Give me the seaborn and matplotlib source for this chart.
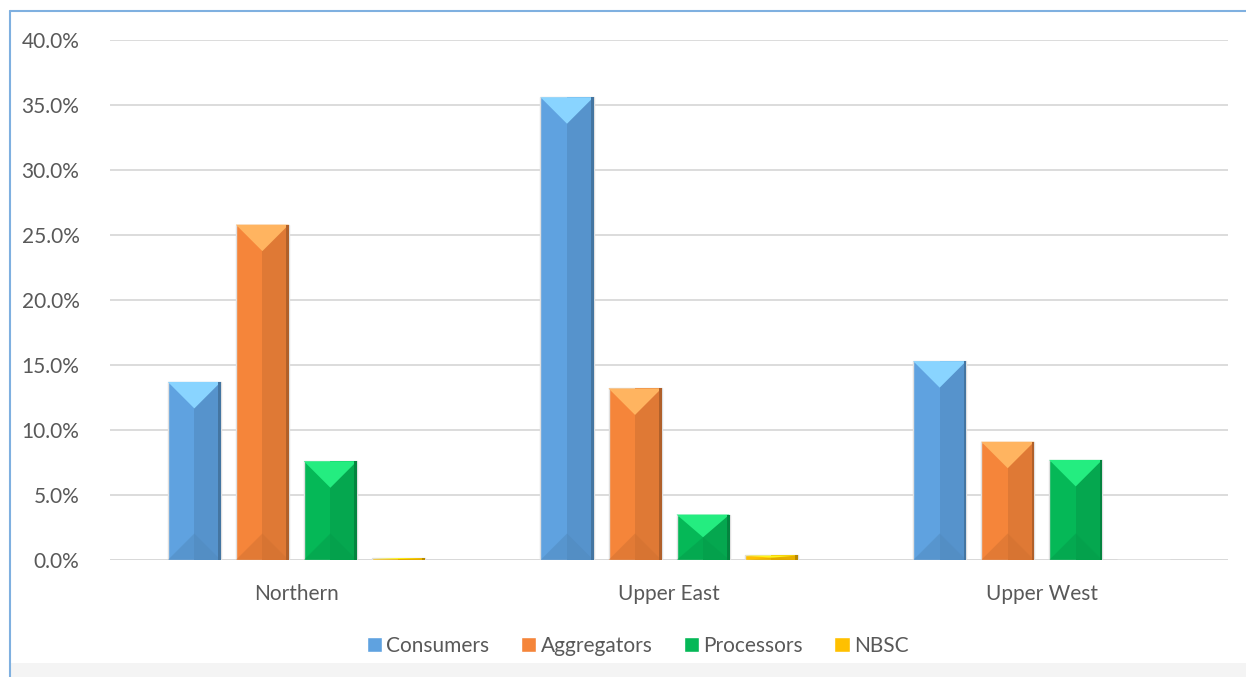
"""
Regional share of respondents by actor group — bar chart re-draw
"""

import matplotlib.pyplot as plt
import matplotlib.colors as mcolors
import numpy as np
import pandas as pd
import seaborn as sns
from matplotlib.lines import Line2D
from matplotlib.patches import Polygon, Rectangle
from matplotlib.ticker import PercentFormatter, MultipleLocator

REGIONS = ["Northern", "Upper East", "Upper West"]
GROUPS = ["Consumers", "Aggregators", "Processors", "NBSC"]
CONSUMERS = [13.7, 35.6, 15.3]
AGGREGATORS = [25.8, 13.2, 9.1]
PROCESSORS = [7.6, 3.5, 7.7]
NBSC = [0.15, 0.35, 0.0]

COLORS = ["#5FA2E0", "#F5853A", "#05B857", "#FFC000"]
TEXT = "#595959"

df = pd.DataFrame({
    "Region": REGIONS * 4,
    "Group": np.repeat(GROUPS, 3),
    "Share": CONSUMERS + AGGREGATORS + PROCESSORS + NBSC,
})

sns.set_theme(style="white")
plt.rcParams["font.family"] = ["Lato", "DejaVu Sans"]

fig = plt.figure(figsize=(12.46, 6.77), dpi=100)
ax = fig.add_axes([0.0883, 0.1728, 0.8973, 0.7681])

sns.barplot(data=df, x="Region", y="Share", hue="Group", order=REGIONS,
            hue_order=GROUPS, palette=COLORS, width=0.73, gap=0.22,
            saturation=1, ax=ax, errorbar=None)

ax.set_xlim(-0.5, 2.5)
ax.set_ylim(0, 40)
ax.yaxis.set_major_locator(MultipleLocator(5))
ax.yaxis.set_major_formatter(PercentFormatter(decimals=1))
ax.grid(axis="y", color="#D9D9D9", lw=1.3)
ax.set_axisbelow(True)
sns.despine(ax=ax, left=True, bottom=True, top=True, right=True)
ax.axhline(0, color="#D9D9D9", lw=1.3, zorder=0.5)
ax.set_xlabel("")
ax.set_ylabel("")
ax.tick_params(axis="y", length=0, pad=22, labelsize=15, labelcolor=TEXT)
ax.tick_params(axis="x", length=0, pad=17, labelsize=15, labelcolor=TEXT)

# bevelled look on each bar, derived from the drawn patches
to_data = ax.transData.inverted()
bars = [p for p in ax.patches if isinstance(p, Rectangle) and p.get_height() > 0]
for p in bars:
    base = np.array(mcolors.to_rgb(p.get_facecolor()))
    light = np.clip(base * 1.12 + 0.12, 0, 1)
    dark = base * 0.91
    darker = base * 0.85
    x0, y0 = p.get_x(), p.get_y()
    x1, y1 = x0 + p.get_width(), y0 + p.get_height()
    (px0, py0), (px1, py1) = ax.transData.transform([(x0, y0), (x1, y1)])
    d = min((px1 - px0) / 2, (py1 - py0) / 2)
    pxc = (px0 + px1) / 2
    p.set_edgecolor("#E0E0E0")
    p.set_linewidth(1.0)
    z = p.get_zorder()
    right = to_data.transform([(pxc, py0), (px1, py0), (px1, py1), (pxc, py1)])
    ax.add_patch(Polygon(right, closed=True, fc=dark, ec="none", zorder=z + 0.1))
    top = to_data.transform([(px0, py1), (px1, py1), (pxc, py1 - d)])
    ax.add_patch(Polygon(top, closed=True, fc=light, ec="none", zorder=z + 0.2))
    bot = to_data.transform([(px0, py0), (px1, py0), (pxc, py0 + d)])
    ax.add_patch(Polygon(bot, closed=True, fc=darker, ec="none", alpha=0.5, zorder=z + 0.2))
    edge = to_data.transform([(px1 - 2.5, py0), (px1, py0), (px1, py1), (px1 - 2.5, py1)])
    ax.add_patch(Polygon(edge, closed=True, fc=base * 0.72, ec="none", zorder=z + 0.3))

sns.move_legend(ax, "center", bbox_to_anchor=(0.472, -0.165), ncol=4,
                frameon=False, title=None, fontsize=15, handlelength=0.75,
                handleheight=0.75, handletextpad=0.2, columnspacing=1.5)
for t in ax.get_legend().get_texts():
    t.set_color(TEXT)

# chart frame
W, H = 1246, 677
fig.add_artist(Line2D([10 / W, 10 / W], [0, 1 - 11 / H], transform=fig.transFigure,
                      color="#7FB0E0", lw=1.5))
fig.add_artist(Line2D([10 / W, 1], [1 - 11 / H, 1 - 11 / H], transform=fig.transFigure,
                      color="#7FB0E0", lw=1.5))
fig.patches.append(Rectangle((11 / W, 0), 1.2, 14 / H, transform=fig.transFigure,
                             fc="#F4F4F4", ec="none", zorder=0.5))

fig.savefig("out.png", dpi=100)
